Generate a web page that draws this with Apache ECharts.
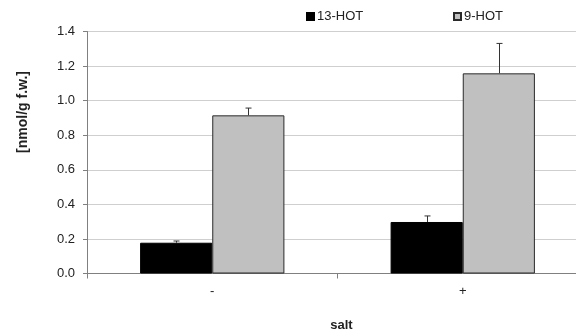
<!DOCTYPE html>
<html>
<head>
<meta charset="utf-8">
<script src="https://cdn.jsdelivr.net/npm/echarts@6/dist/echarts.min.js"></script>
<style>
  html, body { margin: 0; padding: 0; background: #fff; }
  #chart { width: 576px; height: 334px; }
</style>
</head>
<body>
<div id="chart"></div>
<script>
// Hydroxy-octadecatrienoic acid levels with and without salt treatment
const categories = ['-', '+'];
const hot13 = [0.178, 0.298];
const hot13Err = [0.010, 0.035];
const hot9 = [0.915, 1.158];
const hot9Err = [0.042, 0.173];
const yTicks = [0, 0.2, 0.4, 0.6, 0.8, 1.0, 1.2, 1.4];

const BAR_FRACTION = 0.288; // bar width as a share of the category band
const FONT = 'Liberation Sans, Arial, sans-serif';

// Upward error whisker drawn above each bar
function errorSeries(values, errs, side) {
  return {
    type: 'custom',
    z: 5,
    data: values.map((v, i) => [i, v, v + errs[i]]),
    renderItem: function (params, api) {
      const band = api.size([1, 0])[0];
      const offset = side * band * BAR_FRACTION / 2;
      const base = api.coord([api.value(0), api.value(1)]);
      const top = api.coord([api.value(0), api.value(2)]);
      const x = Math.round(base[0] + offset) + 0.5;
      const cap = 3;
      const style = { stroke: '#333', lineWidth: 1 };
      return {
        type: 'group',
        children: [
          { type: 'line', shape: { x1: x, y1: base[1], x2: x, y2: top[1] }, style: style },
          { type: 'line', shape: { x1: x - cap, y1: top[1], x2: x + cap, y2: top[1] }, style: style }
        ]
      };
    }
  };
}

const legendText = { fontSize: 13, color: '#222', fontFamily: FONT, padding: [0, 0, 0, -2] };

const chart = echarts.init(document.getElementById('chart'));
chart.setOption({
  animation: false,
  backgroundColor: '#fff',
  textStyle: { fontFamily: FONT },
  legend: [
    {
      left: 301, top: 5,
      data: ['13-HOT'],
      itemWidth: 7, itemHeight: 7, itemGap: 4,
      icon: 'rect',
      textStyle: legendText
    },
    {
      left: 448, top: 5,
      data: ['9-HOT'],
      itemWidth: 7, itemHeight: 7, itemGap: 4,
      icon: 'rect',
      textStyle: legendText
    }
  ],
  grid: { left: 87, right: -12, top: 31.5, bottom: 60.5, containLabel: false, outerBoundsMode: 'none' },
  xAxis: {
    type: 'category',
    data: categories,
    name: 'salt',
    nameLocation: 'middle',
    nameGap: 45,
    nameTextStyle: { fontSize: 13, fontWeight: 'bold', color: '#222', fontFamily: FONT, padding: [0, 0, 0, 8] },
    axisLine: { lineStyle: { color: '#808080', width: 1 } },
    axisTick: { show: true, length: 5, lineStyle: { color: '#808080' } },
    axisLabel: { fontSize: 13, color: '#222', margin: 11 },
    splitLine: { show: false }
  },
  yAxis: {
    type: 'value',
    min: yTicks[0],
    max: yTicks[yTicks.length - 1],
    interval: 0.2,
    name: '[nmol/g f.w.]',
    nameLocation: 'middle',
    nameRotate: 90,
    nameGap: 57,
    nameTextStyle: { fontSize: 14, fontWeight: 'bold', color: '#222', fontFamily: FONT, padding: [0, 0, 0, 81] },
    axisLine: { show: true, lineStyle: { color: '#808080', width: 1 } },
    axisTick: { show: true, length: 4, lineStyle: { color: '#808080' } },
    axisLabel: { fontSize: 13, color: '#222', margin: 12, formatter: v => v.toFixed(1) },
    splitLine: { show: true, lineStyle: { color: '#cfcfcf', width: 1 } }
  },
  series: [
    {
      name: '13-HOT',
      type: 'bar',
      data: hot13,
      barWidth: (BAR_FRACTION * 100) + '%',
      barGap: '0%',
      itemStyle: { color: '#000', borderColor: '#000', borderWidth: 1 }
    },
    {
      name: '9-HOT',
      type: 'bar',
      data: hot9,
      barWidth: (BAR_FRACTION * 100) + '%',
      barGap: '0%',
      itemStyle: { color: '#c0c0c0', borderColor: '#2a2a2a', borderWidth: 1 }
    },
    errorSeries(hot13, hot13Err, -1),
    errorSeries(hot9, hot9Err, 1)
  ]
});
</script>
</body>
</html>
